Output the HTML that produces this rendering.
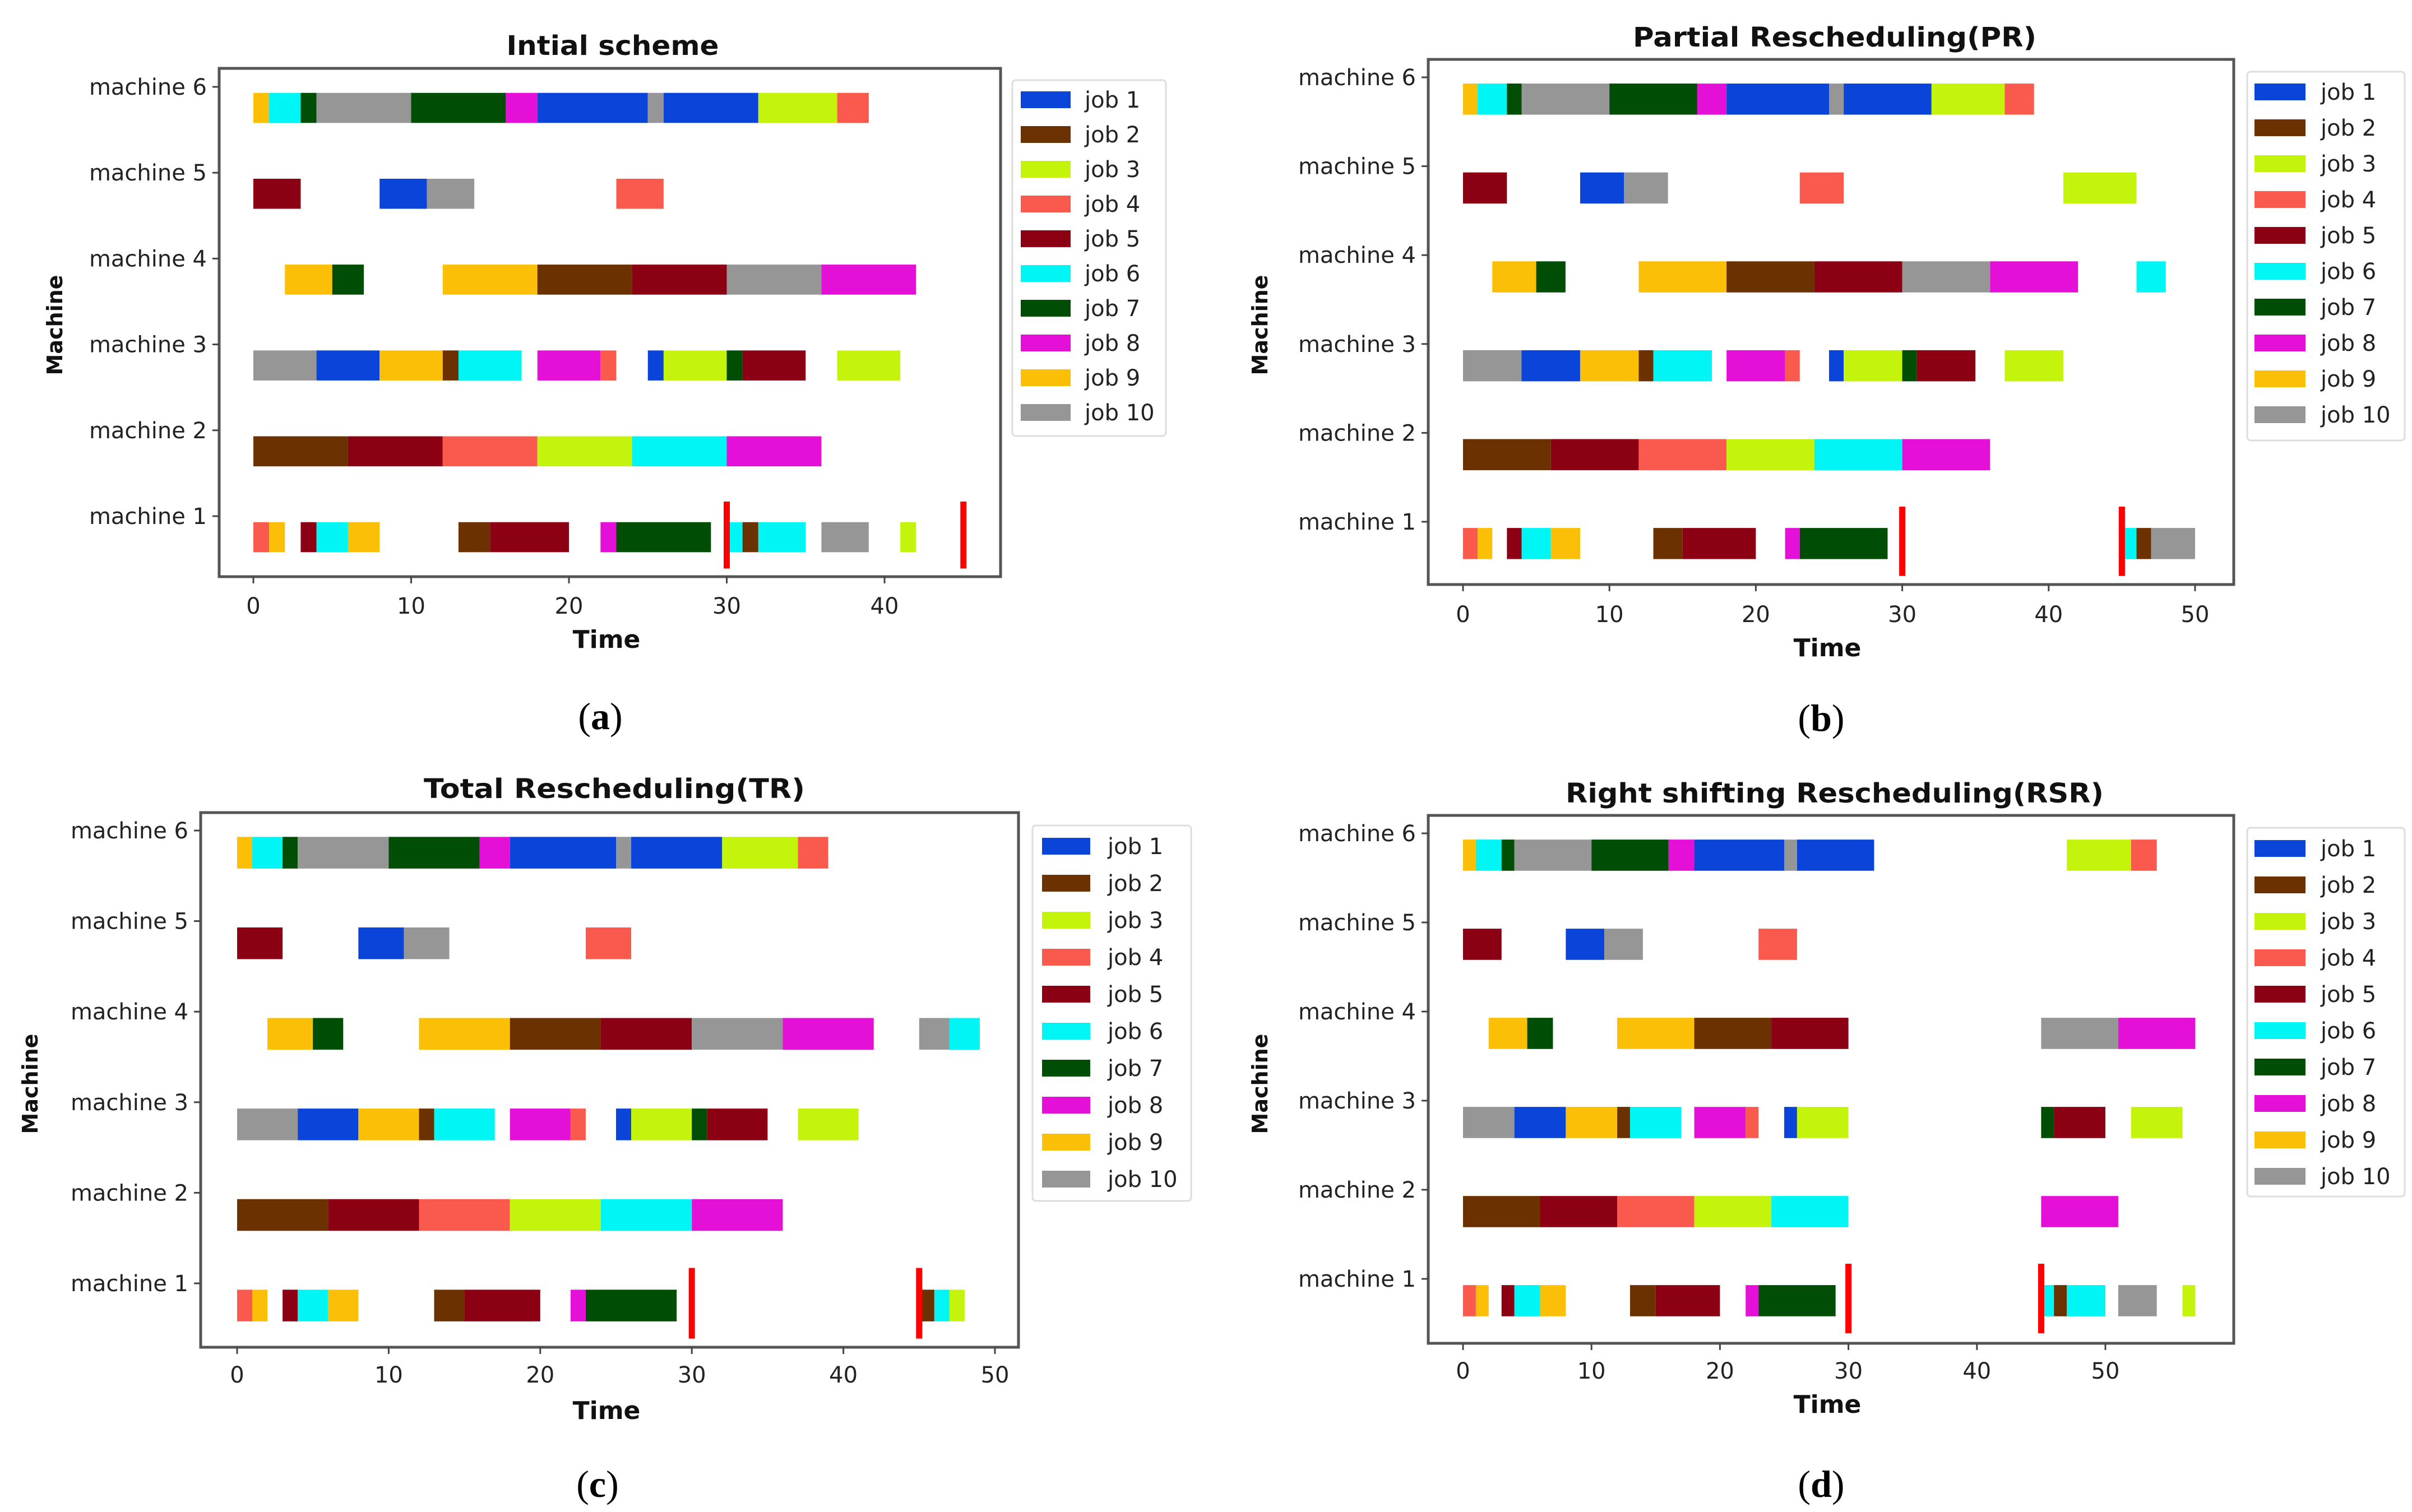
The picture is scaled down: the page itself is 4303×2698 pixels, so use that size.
<!DOCTYPE html>
<html><head><meta charset="utf-8">
<style>
html,body{margin:0;padding:0;background:#fff;}
svg{display:block;}
text{font-family:"DejaVu Sans","Liberation Sans",sans-serif;}
</style></head>
<body>
<svg id="fig" width="4303" height="2698" viewBox="0 0 4303 2698" xmlns="http://www.w3.org/2000/svg"></svg>
<script>
// ---- data ----
const jobNames = ["job 1","job 2","job 3","job 4","job 5","job 6","job 7","job 8","job 9","job 10"];
const jobColors = ["#0b44d8","#6b3200","#c4f40c","#fa5a4e","#8b0012","#00f5f5","#004d06","#e510d8","#fcbf07","#969696"];
const machineLabels = ["machine 1","machine 2","machine 3","machine 4","machine 5","machine 6"];
const titles = ["Intial scheme","Partial Rescheduling(PR)","Total Rescheduling(TR)","Right shifting Rescheduling(RSR)"];
const captions = ["a","b","c","d"];
const ticksA = [0,10,20,30,40];
const ticksB = [0,10,20,30,40,50];
const breakdownLines = [30,45];
// operations: [machine, start, end, job]
const opsA = [
[6,0,1,9],[6,1,3,6],[6,3,4,7],[6,4,10,10],[6,10,16,7],[6,16,18,8],[6,18,25,1],[6,25,26,10],[6,26,32,1],[6,32,37,3],[6,37,39,4],
[5,0,3,5],[5,8,11,1],[5,11,14,10],[5,23,26,4],
[4,2,5,9],[4,5,7,7],[4,12,18,9],[4,18,24,2],[4,24,30,5],[4,30,36,10],[4,36,42,8],
[3,0,4,10],[3,4,8,1],[3,8,12,9],[3,12,13,2],[3,13,17,6],[3,18,22,8],[3,22,23,4],[3,25,26,1],[3,26,30,3],[3,30,31,7],[3,31,35,5],[3,37,41,3],
[2,0,6,2],[2,6,12,5],[2,12,18,4],[2,18,24,3],[2,24,30,6],[2,30,36,8],
[1,0,1,4],[1,1,2,9],[1,3,4,5],[1,4,6,6],[1,6,8,9],[1,13,15,2],[1,15,20,5],[1,22,23,8],[1,23,29,7],[1,30,31,6],[1,31,32,2],[1,32,35,6],[1,36,39,10],[1,41,42,3]
];
const opsB = [
[6,0,1,9],[6,1,3,6],[6,3,4,7],[6,4,10,10],[6,10,16,7],[6,16,18,8],[6,18,25,1],[6,25,26,10],[6,26,32,1],[6,32,37,3],[6,37,39,4],
[5,0,3,5],[5,8,11,1],[5,11,14,10],[5,23,26,4],[5,41,46,3],
[4,2,5,9],[4,5,7,7],[4,12,18,9],[4,18,24,2],[4,24,30,5],[4,30,36,10],[4,36,42,8],[4,46,48,6],
[3,0,4,10],[3,4,8,1],[3,8,12,9],[3,12,13,2],[3,13,17,6],[3,18,22,8],[3,22,23,4],[3,25,26,1],[3,26,30,3],[3,30,31,7],[3,31,35,5],[3,37,41,3],
[2,0,6,2],[2,6,12,5],[2,12,18,4],[2,18,24,3],[2,24,30,6],[2,30,36,8],
[1,0,1,4],[1,1,2,9],[1,3,4,5],[1,4,6,6],[1,6,8,9],[1,13,15,2],[1,15,20,5],[1,22,23,8],[1,23,29,7],[1,45,46,6],[1,46,47,2],[1,47,50,10]
];
const opsC = [
[6,0,1,9],[6,1,3,6],[6,3,4,7],[6,4,10,10],[6,10,16,7],[6,16,18,8],[6,18,25,1],[6,25,26,10],[6,26,32,1],[6,32,37,3],[6,37,39,4],
[5,0,3,5],[5,8,11,1],[5,11,14,10],[5,23,26,4],
[4,2,5,9],[4,5,7,7],[4,12,18,9],[4,18,24,2],[4,24,30,5],[4,30,36,10],[4,36,42,8],[4,45,47,10],[4,47,49,6],
[3,0,4,10],[3,4,8,1],[3,8,12,9],[3,12,13,2],[3,13,17,6],[3,18,22,8],[3,22,23,4],[3,25,26,1],[3,26,30,3],[3,30,31,7],[3,31,35,5],[3,37,41,3],
[2,0,6,2],[2,6,12,5],[2,12,18,4],[2,18,24,3],[2,24,30,6],[2,30,36,8],
[1,0,1,4],[1,1,2,9],[1,3,4,5],[1,4,6,6],[1,6,8,9],[1,13,15,2],[1,15,20,5],[1,22,23,8],[1,23,29,7],[1,45,46,2],[1,46,47,6],[1,47,48,3]
];
const opsD = [
[6,0,1,9],[6,1,3,6],[6,3,4,7],[6,4,10,10],[6,10,16,7],[6,16,18,8],[6,18,25,1],[6,25,26,10],[6,26,32,1],[6,47,52,3],[6,52,54,4],
[5,0,3,5],[5,8,11,1],[5,11,14,10],[5,23,26,4],
[4,2,5,9],[4,5,7,7],[4,12,18,9],[4,18,24,2],[4,24,30,5],[4,45,51,10],[4,51,57,8],
[3,0,4,10],[3,4,8,1],[3,8,12,9],[3,12,13,2],[3,13,17,6],[3,18,22,8],[3,22,23,4],[3,25,26,1],[3,26,30,3],[3,45,46,7],[3,46,50,5],[3,52,56,3],
[2,0,6,2],[2,6,12,5],[2,12,18,4],[2,18,24,3],[2,24,30,6],[2,45,51,8],
[1,0,1,4],[1,1,2,9],[1,3,4,5],[1,4,6,6],[1,6,8,9],[1,13,15,2],[1,15,20,5],[1,22,23,8],[1,23,29,7],[1,45,46,6],[1,46,47,2],[1,47,50,6],[1,51,54,10],[1,56,57,3]
];
const opsAll = [opsA, opsB, opsC, opsD];
const tickSets = [ticksA, ticksB, ticksB, ticksB];

// ---- layout (pixel geometry, not data) ----
const panels = [
 {L:391,R:1785,T:122,B:1029,x0:452,ppu:28.15,m6:155,m1:921,legX:1806,legY:143,legW:274,legH:635,legFirst:178,legStep:62,patchX:1821,patchW:89,textX:1935,titleX:1093,titleY:81,titleW:379,tickY:1080,timeX:1082,timeY:1140,ylX:97,ylY:580,capX:1071,capY:1277},
 {L:2548,R:3985,T:106,B:1043,x0:2610,ppu:26.12,m6:138,m1:931,legX:4009,legY:128,legW:281,legH:658,legFirst:164,legStep:64,patchX:4022,patchW:91,textX:4140,titleX:3273,titleY:66,titleW:720,tickY:1095,timeX:3260,timeY:1155,ylX:2247,ylY:580,capX:3249,capY:1280},
 {L:358,R:1817,T:1450,B:2404,x0:423,ppu:27.04,m6:1482,m1:2290,legX:1842,legY:1473,legW:283,legH:670,legFirst:1510,legStep:66,patchX:1859,patchW:86,textX:1976,titleX:1096,titleY:1407,titleW:680,tickY:2452,timeX:1082,timeY:2516,ylX:53,ylY:1934,capX:1066,capY:2647},
 {L:2548,R:3985,T:1455,B:2397,x0:2610,ppu:22.92,m6:1487,m1:2282,legX:4009,legY:1477,legW:281,legH:658,legFirst:1514,legStep:65,patchX:4022,patchW:91,textX:4140,titleX:3273,titleY:1415,titleW:960,tickY:2445,timeX:3260,timeY:2505,ylX:2247,ylY:1934,capX:3249,capY:2647}
];

const NS = "http://www.w3.org/2000/svg";
const svg = document.getElementById('fig');
function mk(tag, attrs, parent){
  const e = document.createElementNS(NS, tag);
  for (const k in attrs) e.setAttribute(k, attrs[k]);
  (parent||svg).appendChild(e);
  return e;
}

panels.forEach((p, pi) => {
  const g = mk('g', {});
  
  
  const sp = (p.m1 - p.m6) / 5;
  const xS = v => p.x0 + v * p.ppu;
  const yS = m => p.m1 - (m - 1) * sp;
  const barOff = 0.07 * sp, barH = 0.35 * sp;

  opsAll[pi].forEach(o => {
    const r = mk('rect', {x: xS(o[1]), y: yS(o[0]) + barOff, width: xS(o[2]) - xS(o[1]), height: barH, fill: jobColors[o[3]-1]}, g);
    
    
  });
  breakdownLines.forEach(v => {
    const l = mk('rect', {x: xS(v) - 5.5, y: yS(1) - 0.17 * sp, width: 11, height: 0.78 * sp, fill: '#ff0000'}, g);
    
    
  });
  const fr = mk('rect', {x: p.L, y: p.T, width: p.R - p.L, height: p.B - p.T, fill: 'none', stroke: '#555', 'stroke-width': 5}, g);
  
  
  machineLabels.forEach((lab, i) => {
    const y = yS(i + 1);
    mk('line', {x1: p.L - 12, x2: p.L, y1: y, y2: y, stroke: '#444', 'stroke-width': 3}, g);
    const t = mk('text', {x: p.L - 22, y: y + 14, 'font-size': 40, 'text-anchor': 'end', fill: '#222'}, g);
    t.textContent = lab;
    
    
  });
  tickSets[pi].forEach(v => {
    const x = xS(v);
    mk('line', {x1: x, x2: x, y1: p.B, y2: p.B + 12, stroke: '#444', 'stroke-width': 3}, g);
    const t = mk('text', {x: x, y: p.tickY + 15, 'font-size': 40, 'text-anchor': 'middle', fill: '#222'}, g);
    t.textContent = v;
    
    
  });
  const ti = mk('text', {x: p.titleX, y: p.titleY + 17, 'font-size': 48, 'font-weight': 'bold', 'text-anchor': 'middle', fill: '#111', textLength: p.titleW, lengthAdjust: 'spacingAndGlyphs'}, g);
  ti.textContent = titles[pi];
  
  
  const xl = mk('text', {x: p.timeX, y: p.timeY + 16, 'font-size': 44, 'font-weight': 'bold', 'text-anchor': 'middle', fill: '#111'}, g);
  xl.textContent = 'Time';
  
  
  const yl = mk('text', {x: 0, y: 0, 'font-size': 38, 'font-weight': 'bold', 'text-anchor': 'middle', fill: '#111', transform: 'translate(' + (p.ylX + 14) + ',' + p.ylY + ') rotate(-90)'}, g);
  yl.textContent = 'Machine';
  
  
  const lg = mk('g', {}, g);
  
  
  mk('rect', {x: p.legX, y: p.legY, width: p.legW, height: p.legH, fill: '#fff', stroke: '#ddd', 'stroke-width': 3, rx: 6}, lg);
  jobNames.forEach((n, j) => {
    const cy = p.legFirst + j * p.legStep;
    const e = mk('g', {}, lg);
    
    
    mk('rect', {x: p.patchX, y: cy - 15, width: p.patchW, height: 30, fill: jobColors[j]}, e);
    const t = mk('text', {x: p.textX, y: cy + 14, 'font-size': 40, fill: '#222'}, e);
    t.textContent = n;
  });
  const cap = mk('text', {x: p.capX, y: p.capY + 24, 'font-size': 68, 'text-anchor': 'middle', fill: '#000', style: 'font-family:"Liberation Serif",serif'}, svg);
  cap.innerHTML = '(<tspan font-weight="bold">' + captions[pi] + '</tspan>)';
  
  
});
</script>
</body></html>
